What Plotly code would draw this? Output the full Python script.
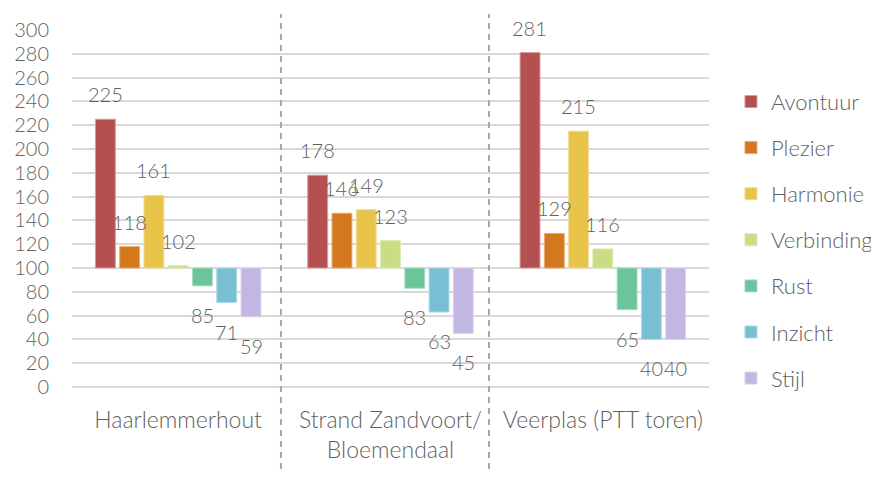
import plotly.graph_objects as go

categories = ["Haarlemmerhout", "Strand Zandvoort/<br>Bloemendaal", "Veerplas (PTT toren)"]
series_names = ["Avontuur", "Plezier", "Harmonie", "Verbinding", "Rust", "Inzicht", "Stijl"]
values = {
    "Avontuur":   [225, 178, 281],
    "Plezier":    [118, 146, 129],
    "Harmonie":   [161, 149, 215],
    "Verbinding": [102, 123, 116],
    "Rust":       [85, 83, 65],
    "Inzicht":    [71, 63, 40],
    "Stijl":      [59, 45, 40],
}
baseline = 100
y_ticks = list(range(0, 301, 20))

colors = ["#B55050", "#D4781E", "#E9C44A", "#C9DD85", "#6CC49A", "#78BFD3", "#C2B6E3"]
outline = ["#D99A9A", "#E8AB73", "#F2DB95", "#DDEAB3", "#A6DCC1", "#AEDAE6", "#DBD3F0"]

FONT = "Lato"
TXT = "#5F5F5F"

fig = go.Figure()
n = len(series_names)
slot_px = 24.3
for i, name in enumerate(series_names):
    vals = values[name]
    fig.add_trace(go.Bar(
        name=name,
        x=categories,
        y=[v - baseline for v in vals],
        base=baseline,
        marker=dict(color=colors[i], line=dict(color=outline[i], width=1)),
        legendgroup=name,
        hoverinfo="skip",
    ))
    for j, v in enumerate(vals):
        fig.add_annotation(
            x=categories[j], y=v, xref="x", yref="y",
            text=str(v), showarrow=False,
            xshift=(i - (n - 1) / 2) * slot_px,
            yshift=25 if v >= baseline else -29,
            font=dict(family=FONT, size=20, color=TXT, weight=300),
        )

for xp in [0.328, 0.6546]:
    fig.add_shape(type="line", xref="paper", yref="paper",
                  x0=xp, x1=xp, y0=-0.23, y1=1.045,
                  line=dict(color="#A6A6A6", width=2, dash="6px,5px"))

fig.update_layout(
    width=871, height=469,
    margin=dict(l=64, r=170, t=22, b=90, autoexpand=False),
    paper_bgcolor="white", plot_bgcolor="white",
    barmode="group", bargap=0.2, bargroupgap=0.18,
    font=dict(family=FONT, size=20, color=TXT, weight=300),
    showlegend=True,
    legend=dict(x=1.0345, y=0.858, xanchor="left", yanchor="top",
                font=dict(family=FONT, size=22, color=TXT, weight=300),
                tracegroupgap=14.5, itemclick=False),
    xaxis=dict(showgrid=False, zeroline=False, showline=False, ticks="",
               automargin=False, ticklabelstandoff=17,
               tickfont=dict(family=FONT, size=23, color=TXT, weight=300)),
    yaxis=dict(range=[0, 300], tickvals=y_ticks, showgrid=True,
               gridcolor="#D9D9D9", gridwidth=1.5, zeroline=True,
               zerolinecolor="#D9D9D9", zerolinewidth=1.5,
               automargin=False, ticklabelstandoff=22,
               tickfont=dict(family=FONT, size=20, color=TXT, weight=300)),
)

fig.write_html("out.html")
